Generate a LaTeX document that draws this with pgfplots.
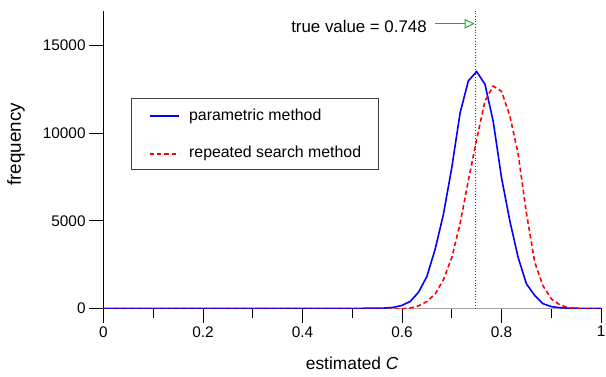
\documentclass[border=0pt]{standalone}
\usepackage{fontspec}
\setmainfont{Liberation Sans}
\usepackage{pgfplots}
\pgfplotsset{compat=1.18}
\usetikzlibrary{arrows.meta}
\definecolor{arrowgreen}{rgb}{0.2,0.63,0.2}
\definecolor{dotgreen}{rgb}{0,0.4,0}
\begin{document}
\begin{tikzpicture}
\begin{axis}[
  at={(0,0)}, anchor=origin,
  scale only axis, width=500bp, height=299.2bp,
  xmin=0, xmax=1, ymin=0, ymax=17000,
  axis lines=left, axis line style={-},
  x axis line style={black!35, line width=1bp},
  y axis line style={black, line width=0.8bp},
  xtick={0,0.2,0.4,0.6,0.8,1},
  minor xtick={0.1,0.3,0.5,0.7,0.9},
  ytick={0,5000,10000,15000},
  scaled y ticks=false,
  tick align=outside,
  major tick length=14.5bp, minor tick length=10bp,
  tick style={black, line width=0.8bp},
  /pgf/number format/assume math mode=true,
  /pgf/number format/1000 sep={},
  tick label style={font=\fontsize{15.5}{18}\selectfont},
  xlabel={estimated \textit{C}},
  ylabel={frequency},
  xlabel style={at={(axis description cs:0.5,-0.184)}, anchor=center, font=\fontsize{17.5}{20}\selectfont},
  ylabel style={at={(axis description cs:-0.176,0.551)}, anchor=center, font=\fontsize{19}{22}\selectfont},
  legend style={at={(axis description cs:0.056,0.705)}, anchor=north west,
    draw=black!75, line width=1bp, inner xsep=17bp, inner ysep=10.5bp,
    nodes={inner sep=0bp}, row sep=24bp, column sep=9bp,
    font=\fontsize{16}{19}\selectfont},
  legend cell align=left,
  legend image code/.code={\draw[#1] (0bp,0bp) -- (30bp,0bp);},
]
\addplot[blue, line width=1.6bp] coordinates {
(0,0) (0.5,0) (0.55,10) (0.5667,20) (0.5833,60) (0.6,170) (0.6167,400)
(0.6333,926) (0.65,1820) (0.6667,3390) (0.6833,5380) (0.7,8030)
(0.7167,11155) (0.7333,12990) (0.75,13520) (0.7667,12800) (0.7833,10680)
(0.8,7460) (0.8167,5000) (0.8333,2915) (0.85,1400) (0.8667,740)
(0.8833,270) (0.9,100) (0.9167,40) (0.9333,15) (0.95,5) (1,0)
};
\addlegendentry{parametric method}
\addplot[red, line width=1.6bp, dash pattern=on 4.5bp off 3bp, yshift=-1bp] coordinates {
(0,0) (0.55,0) (0.5833,10) (0.6,30) (0.6167,80) (0.6333,200) (0.65,450)
(0.6667,880) (0.6833,1700) (0.7,2950) (0.7167,4900) (0.7333,7350)
(0.75,9700) (0.7667,11900) (0.7833,12750) (0.8,12450) (0.8167,11050)
(0.8333,8900) (0.85,5500) (0.8667,2700) (0.8833,1350) (0.9,600)
(0.9167,270) (0.9333,100) (0.95,40) (0.9667,10) (1,0)
};
\addlegendentry{repeated search method}
\addplot[dotgreen, line width=0.8bp, dotted, forget plot] coordinates {(0.748,0) (0.748,17000)};
\node[anchor=base east, inner sep=0bp, font=\fontsize{17}{20}\selectfont] at (axis cs:0.65,15756) {true value = 0.748};
\draw[arrowgreen, line width=1bp, -{Triangle[open,length=10bp,width=9.5bp]}] (axis cs:0.666,16250) -- (axis cs:0.746,16250);
\end{axis}
\pgfresetboundingbox
\useasboundingbox (-104bp,-68bp) rectangle (505bp,309.9bp);
\end{tikzpicture}
\end{document}
